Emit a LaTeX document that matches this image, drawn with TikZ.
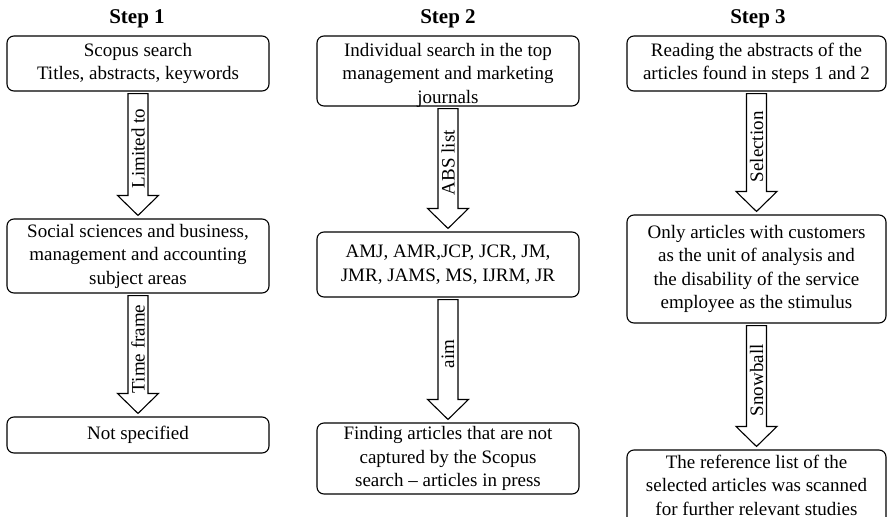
\documentclass[tikz,border=0pt]{standalone}
\usepackage{fontspec}
\setmainfont{Liberation Serif}
\usetikzlibrary{calc}
\newcommand\myblkarrow[3]{%
  \draw[blk] let \p1=(#1.south), \p2=(#2.north) in
    (\x1-10pt,\y1-2pt) -- (\x1-10pt,\y2+23pt) -- (\x1-20.5pt,\y2+23pt) -- (\x1,\y2+3pt)
    -- (\x1+20.5pt,\y2+23pt) -- (\x1+10pt,\y2+23pt) -- (\x1+10pt,\y1-2pt) -- cycle;
  \path (#1.south) -- (#2.north) node[lbl,pos=0.45] {#3};}
\begin{document}
\begin{tikzpicture}[x=1pt,y=-1pt,
  box/.style={draw, rounded corners=7pt, line width=1.1pt, align=center,
    font=\fontsize{19}{23.5}\selectfont, inner sep=0pt},
  txt/.style={align=center, font=\fontsize{19}{23.5}\selectfont, inner sep=0pt},
  ttl/.style={font=\bfseries\fontsize{21}{25}\selectfont, inner sep=0pt},
  blk/.style={draw, line width=1.1pt, fill=white, line join=miter},
  lbl/.style={rotate=90, font=\fontsize{19}{23}\selectfont, inner sep=0pt}]
\useasboundingbox (0,0) rectangle (887,517);
\clip (0,0) rectangle (887,517);

% Step 1
\node[ttl] (t1) at (137,19) {Step 1};
\node[box, minimum width=262, minimum height=55] (a1) at (138,63.5)
  {Scopus search\\Titles, abstracts, keywords};
\node[box, minimum width=262, minimum height=74] (a2) at (138,256)
  {Social sciences and business,\\management and accounting\\subject areas};
\node[box, minimum width=262, minimum height=36] (a3) at (138,435) {Not specified};

% Step 2
\node[ttl] (t2) at (448,19) {Step 2};
\node[box, minimum width=262, minimum height=70] (b1) at (448,71) {};
\node[txt] (b1t) at (448,75)
  {Individual search in the top\\management and marketing\\journals};
\node[box, minimum width=262, minimum height=65] (b2) at (448,264.5)
  {AMJ, AMR,JCP, JCR, JM,\\JMR, JAMS, MS, IJRM, JR};
\node[box, minimum width=262, minimum height=71] (b3) at (448,458.5)
  {Finding articles that are not\\captured by the Scopus\\search -- articles in press};

% Step 3
\node[ttl] (t3) at (758,19) {Step 3};
\node[box, minimum width=259, minimum height=55] (c1) at (756.5,63.5)
  {Reading the abstracts of the\\articles found in steps 1 and 2};
\node[box, minimum width=259, minimum height=108] (c2) at (756.5,269)
  {Only articles with customers\\as the unit of analysis and\\the disability of the service\\employee as the stimulus};
\node[box, minimum width=259, minimum height=74] (c3) at (756.5,487) {};
\node[txt] (c3t) at (756.5,485)
  {The reference list of the\\selected articles was scanned\\for further relevant studies};

% Block arrows
\myblkarrow{a1}{a2}{Limited to}
\myblkarrow{a2}{a3}{Time frame}
\myblkarrow{b1}{b2}{ABS list}
\myblkarrow{b2}{b3}{aim}
\myblkarrow{c1}{c2}{Selection}
\myblkarrow{c2}{c3}{Snowball}
\end{tikzpicture}
\end{document}
